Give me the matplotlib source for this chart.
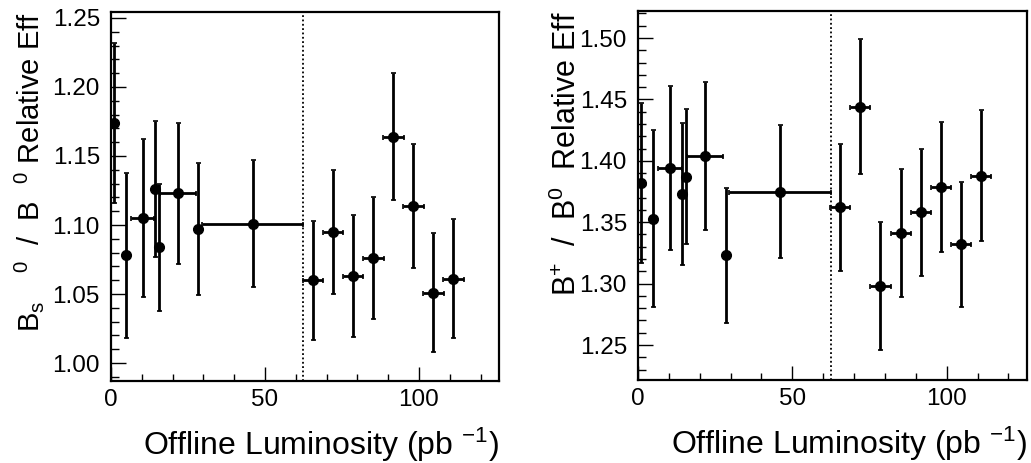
import numpy as np
import matplotlib
matplotlib.use("Agg")
import matplotlib.pyplot as plt
from matplotlib.ticker import MultipleLocator, FormatStrFormatter

plt.rcParams['font.family'] = ['Liberation Sans', 'DejaVu Sans']
plt.rcParams['mathtext.fontset'] = 'custom'
plt.rcParams['mathtext.rm'] = 'Liberation Sans'
plt.rcParams['mathtext.it'] = 'Liberation Sans'
plt.rcParams['mathtext.default'] = 'regular'

# Luminosity bins (pb^-1): centres and half-widths
lumi = [1.0, 5.0, 10.3, 14.4, 15.5, 21.8, 28.4, 46.0,
        65.5, 72.0, 78.5, 85.2, 91.7, 98.2, 104.7, 111.2]
lumi_halfwidth = [0.5, 1.2, 3.8, 0.6, 0.4, 5.8, 0.6, 16.5,
                  3.3, 3.3, 3.3, 3.3, 3.3, 3.3, 3.3, 3.3]

# Bs0 / B0 relative efficiency
bs_eff = [1.174, 1.078, 1.105, 1.126, 1.084, 1.123, 1.097, 1.101,
          1.060, 1.095, 1.063, 1.076, 1.164, 1.114, 1.051, 1.061]
bs_err = [0.058, 0.060, 0.057, 0.049, 0.046, 0.051, 0.048, 0.046,
          0.043, 0.045, 0.044, 0.044, 0.046, 0.045, 0.043, 0.043]

# B+ / B0 relative efficiency
bu_eff = [1.382, 1.353, 1.394, 1.373, 1.387, 1.404, 1.323, 1.375,
          1.362, 1.444, 1.298, 1.341, 1.358, 1.379, 1.332, 1.388]
bu_err = [0.065, 0.072, 0.067, 0.058, 0.055, 0.060, 0.055, 0.054,
          0.052, 0.055, 0.052, 0.052, 0.052, 0.053, 0.051, 0.053]

run_boundary = 62.5

W, H = 1031, 463
fig = plt.figure(figsize=(W / 100, H / 100), dpi=100)

def axes_px(l, r, b, t):
    return fig.add_axes([l / W, (H - b) / H, (r - l) / W, (b - t) / H])

ax1 = axes_px(111, 499, 381, 12)
ax2 = axes_px(638, 1027, 380, 11)

panels = [
    (ax1, bs_eff, bs_err, (0.987, 1.2543),
     r"B$_{s}$$^{\ \ \ \ \ 0}$  /  B$^{\ \ \ 0}$ Relative Eff", 21, -0.168),
    (ax2, bu_eff, bu_err, (1.2215, 1.522),
     r"B$^{+}$  /  B$^{0}$  Relative Eff", 22, -0.142),
]

for ax, vals, errs, ylim, ylabel, ylab_size, ylab_x in panels:
    ax.errorbar(lumi, vals, yerr=errs, xerr=lumi_halfwidth, fmt='o',
                color='black', markersize=7, elinewidth=2.0,
                capsize=1.8, capthick=1.2)
    ax.axvline(run_boundary, color='black', lw=1.3, ls=(0, (1, 1.4)))
    ax.set_xlim(0, 126)
    ax.set_ylim(*ylim)
    ax.xaxis.set_major_locator(MultipleLocator(50))
    ax.xaxis.set_minor_locator(MultipleLocator(10))
    ax.yaxis.set_major_locator(MultipleLocator(0.05))
    ax.yaxis.set_minor_locator(MultipleLocator(0.01))
    ax.yaxis.set_major_formatter(FormatStrFormatter('%.2f'))
    ax.tick_params(which='both', direction='in', top=False, right=False,
                   labelsize=17.5, width=1.0, color='black')
    ax.tick_params(axis='y', which='major', length=11, pad=8)
    ax.tick_params(axis='y', which='minor', length=6)
    ax.tick_params(axis='x', which='major', length=10, pad=6)
    ax.tick_params(axis='x', which='minor', length=5)
    for sp in ax.spines.values():
        sp.set_linewidth(1.6)
    ax.set_xlabel(r"Offline Luminosity (pb $^{-1}$)", fontsize=23, loc='right')
    ax.xaxis.set_label_coords(1.0, -0.122)
    ax.set_ylabel(ylabel, fontsize=ylab_size, loc='top')
    ax.yaxis.set_label_coords(ylab_x, 1.0)

fig.savefig("out.png", dpi=100)
